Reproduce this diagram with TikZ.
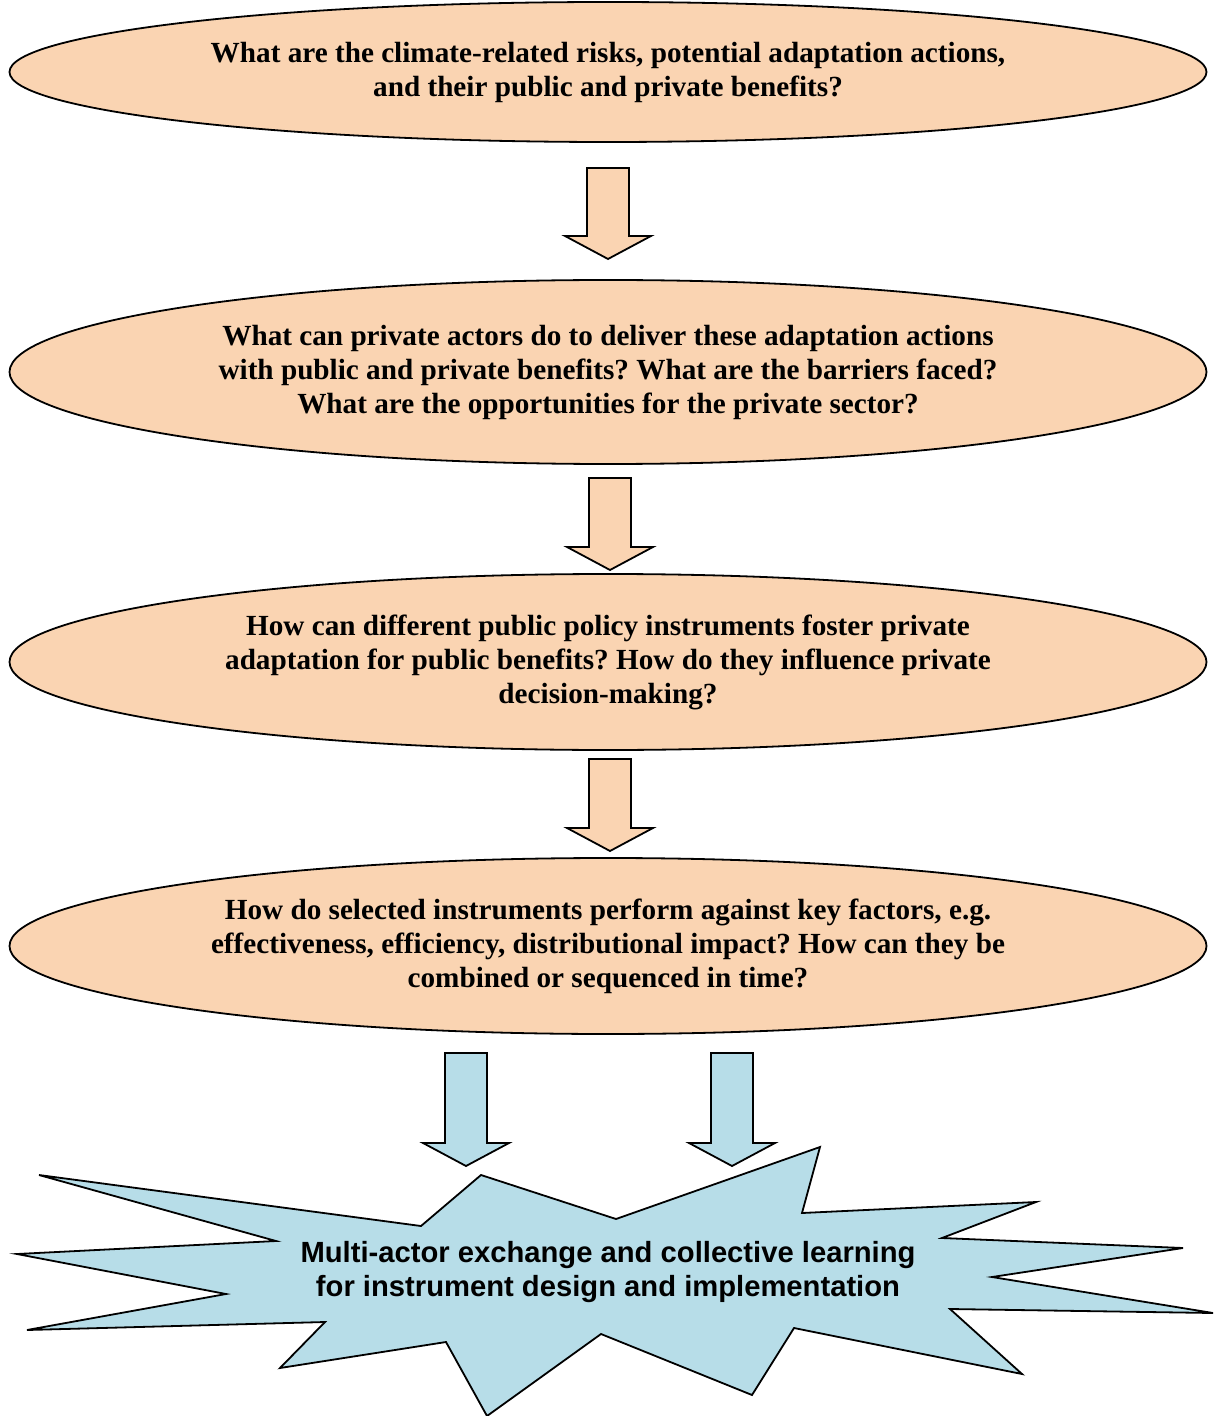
\documentclass[tikz,border=0pt]{standalone}
\usepackage{fontspec}
\setmainfont{Liberation Serif}
\newfontfamily\burstfont{Liberation Sans}
\usetikzlibrary{shapes.geometric}
\frenchspacing
\definecolor{peach}{HTML}{FAD4B2}
\definecolor{paleblue}{HTML}{B7DDE8}
% block arrow: colour, centre x, top y, tip y
\newcommand{\blockdown}[4]{%
  \draw[blockarrow,fill=#1] ({#2-21},#3) -- ({#2+21},#3) -- ({#2+21},#4-23)
    -- ({#2+43},#4-23) -- (#2,#4) -- ({#2-43},#4-23) -- ({#2-21},#4-23) -- cycle;}
\begin{document}
\begin{tikzpicture}[x=.5pt,y=-.5pt,
                    question/.style={ellipse,draw,line width=.9pt,fill=peach,
                      minimum width=598.5pt,inner sep=0pt,align=center,
                      font=\bfseries\fontsize{14.6}{17}\selectfont},
                    blockarrow/.style={draw,line width=.9pt,line join=miter}]
 \useasboundingbox (0,0) rectangle (1213,1416);
 \node[question,minimum height=70pt] (q1) at (608,72)
   {What are the climate-related risks, potential adaptation actions,\\
    and their public and private benefits?};
 \node[question,minimum height=92pt] (q2) at (608,372)
   {What can private actors do to deliver these adaptation actions\\
    with public and private benefits? What are the barriers faced?\\
    What are the opportunities for the private sector?};
 \node[question,minimum height=88pt] (q3) at (608,662)
   {How can different public policy instruments foster private\\
    adaptation for public benefits? How do they influence private\\
    decision-making?};
 \node[question,minimum height=88pt] (q4) at (608,946)
   {How do selected instruments perform against key factors, e.g.\\
    effectiveness, efficiency, distributional impact? How can they be\\
    combined or sequenced in time?};
 \blockdown{peach}{608}{168}{259}
 \blockdown{peach}{610}{478}{570}
 \blockdown{peach}{610}{759}{851}
 \blockdown{paleblue}{466}{1053}{1166}
 \blockdown{paleblue}{732}{1053}{1166}
 % burst
 \draw[blockarrow,fill=paleblue] (39,1175) -- (421,1226) -- (481,1175) -- (616,1219)
   -- (820,1147) -- (802,1213) -- (1036,1202) -- (942,1238) -- (1183,1248)
   -- (992,1277) -- (1213,1313) -- (950,1309) -- (1022,1374) -- (794,1328)
   -- (752,1395) -- (601,1334) -- (487,1416) -- (446,1342) -- (280,1368)
   -- (325,1322) -- (27,1330) -- (226,1294) -- (17,1254) -- (276,1241) -- cycle;
 \node[align=center,font=\burstfont\bfseries\fontsize{14.6}{17}\selectfont] (learn) at (608,1272)
   {Multi-actor exchange and collective learning\\
    for instrument design and implementation};
\end{tikzpicture}
\end{document}
